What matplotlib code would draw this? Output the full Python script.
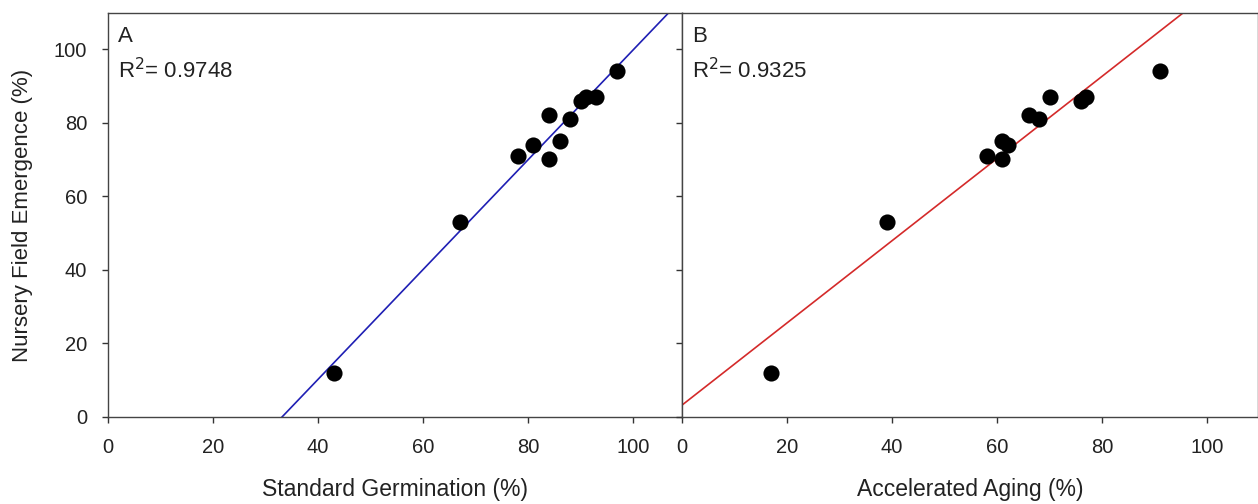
import matplotlib
matplotlib.use("Agg")
import matplotlib.pyplot as plt
import numpy as np

plt.rcParams["font.family"] = ["Liberation Sans", "DejaVu Sans"]

# Panel A: standard germination vs nursery field emergence
germ = [43, 67, 78, 81, 84, 84, 86, 88, 90, 91, 93, 97]
emerg_a = [12, 53, 71, 74, 82, 70, 75, 81, 86, 87, 87, 94]
r2_a = "0.9748"

# Panel B: accelerated aging vs nursery field emergence
aging = [17, 39, 58, 61, 62, 61, 66, 68, 70, 76, 77, 91]
emerg_b = [12, 53, 71, 75, 74, 70, 82, 81, 87, 86, 87, 94]
r2_b = "0.9325"

ticks = [0, 20, 40, 60, 80, 100]

W, H = 1258, 504
fig = plt.figure(figsize=(W / 100, H / 100), dpi=100)
bottom = 1 - 417 / H
height = 404 / H
ax_a = fig.add_axes([108 / W, bottom, 574 / W, height])
ax_b = fig.add_axes([682 / W, bottom, 576 / W, height])

panels = [
    (ax_a, germ, emerg_a, "#1f1fb4", "A", r2_a, "Standard Germination (%)", 109.3),
    (ax_b, aging, emerg_b, "#d42a2a", "B", r2_b, "Accelerated Aging (%)", 109.7),
]

for ax, x, y, col, tag, r2, xlab, xmax in panels:
    slope, icpt = np.polyfit(x, y, 1)
    xs = np.array([0, xmax])
    ax.plot(xs, slope * xs + icpt, color=col, lw=1.2, zorder=2)
    ax.scatter(x, y, s=135, color="black", zorder=3, linewidths=0)
    ax.set_xlim(0, xmax)
    ax.set_ylim(0, 109.8)
    ax.set_xticks(ticks)
    ax.set_yticks(ticks)
    ax.tick_params(direction="out", length=4, width=1, color="#333333",
                   labelsize=14.5, pad=11, labelcolor="#222222")
    for sp in ax.spines.values():
        sp.set_color("#444444")
        sp.set_linewidth(1)
    ax.text(0.018, 0.942, tag, transform=ax.transAxes, fontsize=16,
            ha="left", va="center", color="#222222")
    ax.text(0.018, 0.857, r"R$^{2}$= " + r2, transform=ax.transAxes,
            fontsize=16, ha="left", va="center", color="#222222")
    ax.set_xlabel(xlab, fontsize=16.5, labelpad=15, color="#222222")

ax_b.tick_params(labelleft=False)
ax_a.set_ylabel("Nursery Field Emergence (%)", fontsize=16, labelpad=15,
                color="#222222")

fig.savefig("out.png", dpi=100)
